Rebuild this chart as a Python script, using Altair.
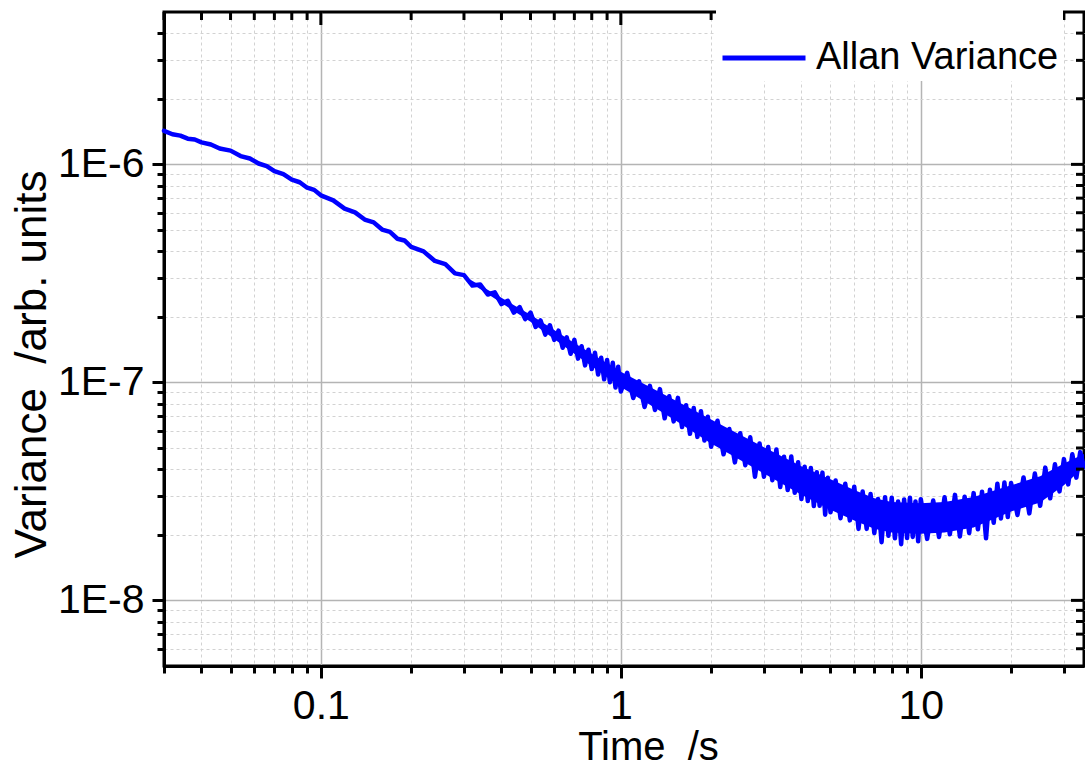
import altair as alt
import numpy as np
import pandas as pd

# ---- data (time in s, variance as log10 value) ----
time_s = [
    0.03, 0.032, 0.034, 0.036, 0.038, 0.04, 0.043, 0.046, 0.05, 0.054, 0.058, 0.062,
    0.066, 0.07, 0.075, 0.08, 0.085, 0.09, 0.095, 0.1, 0.11, 0.12, 0.13, 0.14, 0.15,
    0.16, 0.17, 0.18, 0.19, 0.2, 0.22, 0.24, 0.26, 0.28,
    0.30, 0.32, 0.34, 0.36, 0.38, 0.40, 0.42, 0.44, 0.46, 0.48, 0.50, 0.52, 0.54, 0.56,
    0.58, 0.60, 0.62, 0.64, 0.66, 0.68, 0.70, 0.72, 0.74, 0.76, 0.78, 0.80, 0.82, 0.84,
    0.86, 0.88, 0.90, 0.92, 0.94, 0.96, 0.98, 1.00,
    1.05, 1.10, 1.15, 1.20, 1.25, 1.30, 1.35, 1.40, 1.45, 1.50, 1.55, 1.60, 1.65, 1.70,
    1.75, 1.80, 1.85, 1.90, 1.95, 2.00,
    2.1, 2.2, 2.3, 2.4, 2.5, 2.6, 2.7, 2.8, 2.9, 3.0, 3.1, 3.2, 3.3, 3.4, 3.5, 3.6, 3.7,
    3.8, 3.9, 4.0, 4.1, 4.2, 4.3, 4.4, 4.5, 4.6, 4.7, 4.8, 4.9, 5.0,
    5.2, 5.4, 5.6, 5.8, 6.0, 6.2, 6.4, 6.6, 6.8, 7.0, 7.2, 7.4, 7.6, 7.8, 8.0, 8.2, 8.4,
    8.6, 8.8, 9.0, 9.2, 9.4, 9.6, 9.8, 10.0,
    10.5, 11.0, 11.5, 12.0, 12.5, 13.0, 13.5, 14.0, 14.5, 15.0, 15.5, 16.0, 16.5, 17.0,
    17.5, 18.0, 18.5, 19.0, 19.5, 20.0,
    21, 22, 23, 24, 25, 26, 27, 28, 29, 30, 31, 32, 33, 34, 35,
]
log10_variance = [
    -5.846, -5.862, -5.868, -5.882, -5.886, -5.899, -5.909, -5.927, -5.937, -5.962,
    -5.973, -5.996, -6.008, -6.031, -6.045, -6.070, -6.082, -6.107, -6.117, -6.142,
    -6.165, -6.203, -6.220, -6.253, -6.266, -6.299, -6.310, -6.341, -6.349, -6.378,
    -6.399, -6.443, -6.458, -6.500,
    -6.508, -6.556, -6.551, -6.597, -6.587, -6.641, -6.626, -6.680, -6.655, -6.710,
    -6.680, -6.746, -6.716, -6.781, -6.738, -6.805, -6.763, -6.841, -6.793, -6.869,
    -6.805, -6.891, -6.834, -6.922, -6.850, -6.939, -6.864, -6.964, -6.887, -6.986,
    -6.897, -6.999, -6.910, -7.024, -6.928, -7.042,
    -6.956, -7.072, -6.995, -7.113, -7.016, -7.127, -7.031, -7.165, -7.064, -7.179,
    -7.071, -7.205, -7.105, -7.236, -7.118, -7.250, -7.132, -7.267, -7.158, -7.295,
    -7.176, -7.330, -7.214, -7.367, -7.233, -7.380, -7.252, -7.433, -7.280, -7.433,
    -7.296, -7.449, -7.308, -7.480, -7.341, -7.494, -7.340, -7.506, -7.366, -7.535,
    -7.387, -7.544, -7.393, -7.567, -7.412, -7.566, -7.414, -7.607, -7.438, -7.596,
    -7.450, -7.623, -7.465, -7.633, -7.479, -7.672, -7.501, -7.672, -7.512, -7.691,
    -7.535, -7.733, -7.527, -7.704, -7.529, -7.715, -7.546, -7.742, -7.537, -7.714,
    -7.529, -7.709, -7.546, -7.729, -7.536,
    -7.718, -7.542, -7.709, -7.527, -7.697, -7.516, -7.707, -7.525, -7.691, -7.508,
    -7.674, -7.502, -7.715, -7.493, -7.644, -7.465, -7.624, -7.459, -7.618, -7.462,
    -7.608, -7.436, -7.601, -7.418, -7.566, -7.391, -7.532, -7.376, -7.500, -7.352,
    -7.468, -7.330, -7.437, -7.320, -7.388,
]

# envelope of the dense noisy band
env_time_s = [0.3, 0.5, 0.7, 1, 1.5, 2, 3, 4, 5, 6, 7, 8, 10, 12, 15, 20, 25, 30, 35]
env_log10_lo = [-6.524, -6.722, -6.869, -7.021, -7.169, -7.280, -7.418, -7.515, -7.584,
                -7.634, -7.671, -7.689, -7.694, -7.689, -7.666, -7.592, -7.551, -7.472, -7.388]
env_log10_hi = [-6.512, -6.690, -6.819, -6.951, -7.079, -7.170, -7.298, -7.385, -7.444,
                -7.494, -7.531, -7.549, -7.554, -7.549, -7.526, -7.472, -7.431, -7.372, -7.328]

series_name = "Allan Variance"

x_major_ticks = [0.1, 1, 10]
x_minor_ticks = [0.03, 0.04, 0.05, 0.06, 0.07, 0.08, 0.09, 0.2, 0.3, 0.4, 0.5, 0.6, 0.7,
                 0.8, 0.9, 2, 3, 4, 5, 6, 7, 8, 9, 20, 30]
y_major_ticks = [1e-8, 1e-7, 1e-6]
y_minor_ticks = [6e-9, 7e-9, 8e-9, 9e-9, 2e-8, 3e-8, 4e-8, 5e-8, 6e-8, 7e-8, 8e-8, 9e-8,
                 2e-7, 3e-7, 4e-7, 5e-7, 6e-7, 7e-7, 8e-7, 9e-7, 2e-6, 3e-6, 4e-6]

# ---- tables ----
df = pd.DataFrame({"t": time_s, "v": 10.0 ** np.array(log10_variance), "series": series_name})
env = pd.DataFrame({"t": env_time_s,
                    "lo": 10.0 ** np.array(env_log10_lo),
                    "hi": 10.0 ** np.array(env_log10_hi)})
xmaj = pd.DataFrame({"t": x_major_ticks})
xmin = pd.DataFrame({"t": x_minor_ticks})
ymaj = pd.DataFrame({"v": y_major_ticks})
ymin = pd.DataFrame({"v": y_minor_ticks})

W, H = 920, 654
FONT = "Liberation Sans"
NB = "\u00a0"
MAJ = "abs(log(datum.value)/LN10 - round(log(datum.value)/LN10)) < 0.001"

xscale = alt.Scale(type="log", domain=[0.03, 35], nice=False)
yscale = alt.Scale(type="log", domain=[5e-9, 5e-6], nice=False)

common_axis = dict(
    grid=True,
    gridColor={"condition": {"test": MAJ, "value": "#b4b4b4"}, "value": "#d2d2d2"},
    gridDash={"condition": {"test": MAJ, "value": []}, "value": [3, 3]},
    gridWidth={"condition": {"test": MAJ, "value": 1.5}, "value": 1},
    tickSize={"condition": {"test": MAJ, "value": 12}, "value": 7},
    tickWidth=3, tickColor="black",
    domainColor="black", domainWidth=3,
    labelFont=FONT, labelColor="black", labelOverlap=False, labelFlush=False,
    titleFont=FONT, titleColor="black", titleFontWeight="normal",
)

x_axis = alt.Axis(
    values=x_major_ticks + x_minor_ticks,
    labelExpr=MAJ.join(["(", ") ? (datum.value < 1 ? format(datum.value, '.1f') : format(datum.value, 'd')) : ''"]),
    labelFontSize=41, labelPadding=8,
    title="Time " + NB + "/s", titleFontSize=40,
    titleX=484, titleY=93, titleAlign="center", titleBaseline="alphabetic",
    **common_axis,
)
y_axis = alt.Axis(
    values=y_major_ticks + y_minor_ticks,
    labelExpr=MAJ.join(["(", ") ? ('1E' + round(log(datum.value)/LN10)) : ''"]),
    labelFontSize=41, labelPadding=8,
    title="Variance " + NB + "/arb. units", titleFontSize=44,
    titleX=-119, titleY=352, titleAlign="center", titleBaseline="alphabetic", titleAngle=270,
    **common_axis,
)

band = alt.Chart(env).mark_area(color="#0000ff", opacity=1).encode(
    x=alt.X("t:Q", scale=xscale, axis=x_axis),
    y=alt.Y("lo:Q", scale=yscale, axis=y_axis),
    y2="hi:Q",
)

line = alt.Chart(df).mark_line(strokeWidth=4.5, strokeJoin="round", strokeCap="round").encode(
    x=alt.X("t:Q", scale=xscale, axis=x_axis),
    y=alt.Y("v:Q", scale=yscale, axis=y_axis),
    color=alt.Color(
        "series:N",
        scale=alt.Scale(domain=[series_name], range=["#0000ff"]),
        legend=alt.Legend(
            title=None, orient="none", legendX=552, legendY=-2,
            symbolType="stroke", symbolSize=6889, symbolStrokeWidth=5,
            labelFont=FONT, labelFontSize=38, labelColor="black", labelOffset=8,
            labelLimit=0, padding=4, fillColor="white",
        ),
    ),
)

top_major = alt.Chart(xmaj).mark_rule(color="black", strokeWidth=3).encode(
    x=alt.X("t:Q", scale=xscale, axis=x_axis), y=alt.value(0), y2=alt.value(13))
top_minor = alt.Chart(xmin).mark_rule(color="black", strokeWidth=3).encode(
    x=alt.X("t:Q", scale=xscale, axis=x_axis), y=alt.value(0), y2=alt.value(8))
right_major = alt.Chart(ymaj).mark_rule(color="black", strokeWidth=3).encode(
    y=alt.Y("v:Q", scale=yscale, axis=y_axis), x=alt.value(W), x2=alt.value(W - 13))
right_minor = alt.Chart(ymin).mark_rule(color="black", strokeWidth=3).encode(
    y=alt.Y("v:Q", scale=yscale, axis=y_axis), x=alt.value(W), x2=alt.value(W - 8))

chart = alt.layer(band, line, top_major, top_minor, right_major, right_minor).properties(
    width=W, height=H,
    autosize=alt.AutoSizeParams(type="none"),
    padding={"left": 164, "top": 12, "right": 1, "bottom": 101},
    background="white",
).configure_view(stroke="black", strokeWidth=3)

chart.save("out.html", embed_options={"renderer": "svg", "actions": False})
